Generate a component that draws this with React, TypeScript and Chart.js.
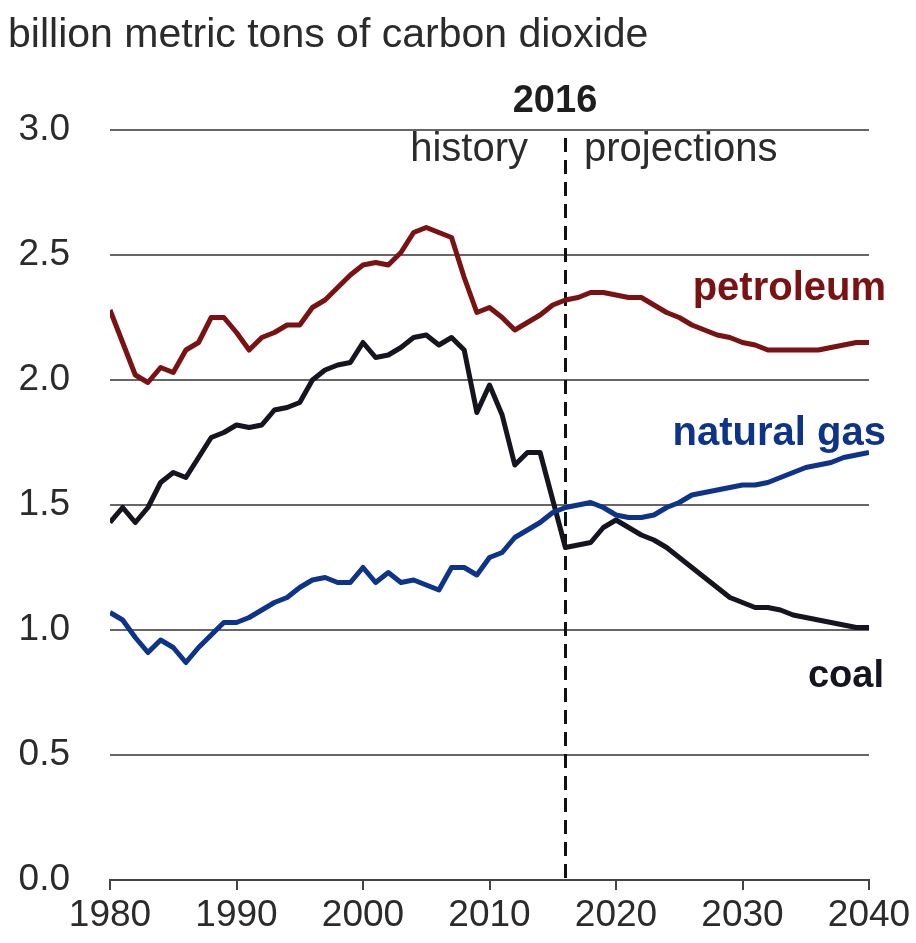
import React, { useEffect, useRef } from "react";
import { Chart, registerables } from "chart.js";

Chart.register(...registerables);

const years: number[] = [];
for (let y = 1980; y <= 2040; y++) years.push(y);

const petroleum = [
  2.28, 2.15, 2.02, 1.99, 2.05, 2.03, 2.12, 2.15, 2.25, 2.25,
  2.19, 2.12, 2.17, 2.19, 2.22, 2.22, 2.29, 2.32, 2.37, 2.42,
  2.46, 2.47, 2.46, 2.51, 2.59, 2.61, 2.59, 2.57, 2.41, 2.27,
  2.29, 2.25, 2.20, 2.23, 2.26, 2.30, 2.32, 2.33, 2.35, 2.35,
  2.34, 2.33, 2.33, 2.30, 2.27, 2.25, 2.22, 2.20, 2.18, 2.17,
  2.15, 2.14, 2.12, 2.12, 2.12, 2.12, 2.12, 2.13, 2.14, 2.15,
  2.15,
];

const naturalGas = [
  1.07, 1.04, 0.97, 0.91, 0.96, 0.93, 0.87, 0.93, 0.98, 1.03,
  1.03, 1.05, 1.08, 1.11, 1.13, 1.17, 1.20, 1.21, 1.19, 1.19,
  1.25, 1.19, 1.23, 1.19, 1.20, 1.18, 1.16, 1.25, 1.25, 1.22,
  1.29, 1.31, 1.37, 1.40, 1.43, 1.47, 1.49, 1.50, 1.51, 1.49,
  1.46, 1.45, 1.45, 1.46, 1.49, 1.51, 1.54, 1.55, 1.56, 1.57,
  1.58, 1.58, 1.59, 1.61, 1.63, 1.65, 1.66, 1.67, 1.69, 1.70,
  1.71,
];

const coal = [
  1.43, 1.49, 1.43, 1.49, 1.59, 1.63, 1.61, 1.69, 1.77, 1.79,
  1.82, 1.81, 1.82, 1.88, 1.89, 1.91, 2.00, 2.04, 2.06, 2.07,
  2.15, 2.09, 2.10, 2.13, 2.17, 2.18, 2.14, 2.17, 2.12, 1.87,
  1.98, 1.86, 1.66, 1.71, 1.71, 1.52, 1.33, 1.34, 1.35, 1.41,
  1.44, 1.41, 1.38, 1.36, 1.33, 1.29, 1.25, 1.21, 1.17, 1.13,
  1.11, 1.09, 1.09, 1.08, 1.06, 1.05, 1.04, 1.03, 1.02, 1.01,
  1.01,
];

const yTicks = [0, 0.5, 1.0, 1.5, 2.0, 2.5, 3.0];
const xTicks = [1980, 1990, 2000, 2010, 2020, 2030, 2040];
const DIVIDER_YEAR = 2016;

const TITLE = "billion metric tons of carbon dioxide";
const seriesLabels = ["petroleum", "natural gas", "coal"];

const COLORS = {
  petroleum: "#7a1214",
  gas: "#0d348a",
  coal: "#15151f",
  text: "#2b2b2b",
};

const FONT = '"Liberation Sans", Arial, Helvetica, sans-serif';

const annotPlugin = {
  id: "annot",
  beforeDatasetsDraw(chart: any) {
    const { ctx, chartArea, scales } = chart;
    const x = Math.round(scales.x.getPixelForValue(DIVIDER_YEAR)) + 0.5;
    ctx.save();
    ctx.setLineDash([14, 8]);
    ctx.lineWidth = 3;
    ctx.strokeStyle = "#111";
    ctx.beginPath();
    ctx.moveTo(x, chartArea.top + 8);
    ctx.lineTo(x, chartArea.bottom);
    ctx.stroke();
    ctx.restore();
  },
  afterDraw(chart: any) {
    const { ctx } = chart;
    ctx.save();
    ctx.textBaseline = "alphabetic";
    // title
    ctx.font = `41px ${FONT}`;
    ctx.fillStyle = COLORS.text;
    ctx.textAlign = "left";
    ctx.fillText(TITLE, 8, 47);
    // 2016
    ctx.font = `bold 38px ${FONT}`;
    ctx.fillStyle = "#1e1e1e";
    ctx.textAlign = "center";
    ctx.fillText(String(DIVIDER_YEAR), 555, 112);
    // history / projections
    ctx.font = `40px ${FONT}`;
    ctx.fillStyle = COLORS.text;
    ctx.textAlign = "right";
    ctx.fillText("history", 528, 161);
    ctx.textAlign = "left";
    ctx.fillText("projections", 584, 161);
    // series labels
    ctx.textAlign = "right";
    ctx.font = `bold 40px ${FONT}`;
    ctx.fillStyle = COLORS.petroleum;
    ctx.fillText(seriesLabels[0], 886, 300);
    ctx.fillStyle = COLORS.gas;
    ctx.fillText(seriesLabels[1], 886, 445);
    ctx.font = `bold 38px ${FONT}`;
    ctx.fillStyle = COLORS.coal;
    ctx.fillText(seriesLabels[2], 884, 687);
    ctx.restore();
  },
};

export default function App() {
  const ref = useRef<HTMLCanvasElement | null>(null);

  useEffect(() => {
    document.body.style.margin = "0";
    const canvas = ref.current;
    if (!canvas) return;
    const mk = (arr: number[]) => years.map((y, i) => ({ x: y, y: arr[i] }));
    const ds = (label: string, arr: number[], color: string) => ({
      label,
      data: mk(arr),
      borderColor: color,
      borderWidth: 5,
      pointRadius: 0,
      tension: 0,
      fill: false,
    });
    const chart = new Chart(canvas, {
      type: "line",
      data: {
        datasets: [
          ds(seriesLabels[0], petroleum, COLORS.petroleum),
          ds(seriesLabels[1], naturalGas, COLORS.gas),
          ds(seriesLabels[2], coal, COLORS.coal),
        ],
      },
      options: {
        responsive: false,
        animation: false,
        devicePixelRatio: 1,
        layout: { padding: { top: 130, right: 47, left: 0, bottom: 0 } },
        plugins: {
          legend: { display: false },
          tooltip: { enabled: false },
          title: { display: false },
        },
        elements: { line: { borderJoinStyle: "round", borderCapStyle: "butt" } },
        scales: {
          x: {
            type: "linear",
            min: xTicks[0],
            max: xTicks[xTicks.length - 1],
            afterBuildTicks: (scale: any) => {
              scale.ticks = xTicks.map((v) => ({ value: v }));
            },
            afterFit: (scale: any) => {
              scale.height = 63;
            },
            ticks: {
              autoSkip: false,
              maxRotation: 0,
              minRotation: 0,
              padding: 4,
              color: COLORS.text,
              font: { family: FONT, size: 37 },
              callback: (v: any) => String(v),
            },
            grid: {
              display: true,
              drawOnChartArea: false,
              drawTicks: true,
              tickLength: 10,
              color: "#444",
              lineWidth: 2,
            },
            border: { display: true, color: "#444", width: 2 },
          },
          y: {
            type: "linear",
            min: 0,
            max: 3,
            afterBuildTicks: (scale: any) => {
              scale.ticks = yTicks.map((v) => ({ value: v }));
            },
            afterFit: (scale: any) => {
              scale.width = 110;
            },
            ticks: {
              padding: 40,
              color: COLORS.text,
              font: { family: FONT, size: 37 },
              callback: (v: any) => Number(v).toFixed(1),
            },
            grid: {
              drawTicks: false,
              color: "#666666",
              lineWidth: 2,
            },
            border: { display: false },
          },
        },
      },
      plugins: [annotPlugin],
    });
    return () => chart.destroy();
  }, []);

  return (
    <div style={{ width: 916, height: 943 }}>
      <canvas ref={ref} width={916} height={943} style={{ display: "block", width: 916, height: 943 }} />
    </div>
  );
}
